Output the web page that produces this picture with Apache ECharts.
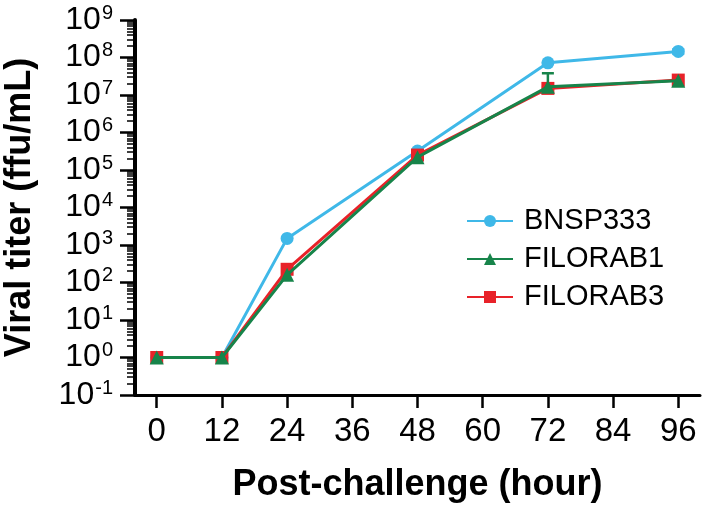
<!DOCTYPE html>
<html><head><meta charset="utf-8">
<script src="https://cdn.jsdelivr.net/npm/echarts@6/dist/echarts.min.js"></script>
<style>html,body{margin:0;padding:0;background:#fff}#c{width:702px;height:508px}</style>
</head><body><div id="c"></div>
<script>
const hours = [0, 12, 24, 48, 72, 96];
const xTicks = [0, 12, 24, 36, 48, 60, 72, 84, 96];
const yTicks = [0.1, 1, 10, 100, 1e3, 1e4, 1e5, 1e6, 1e7, 1e8, 1e9];
const seriesNames = ['BNSP333', 'FILORAB1', 'FILORAB3'];
const bnsp333 = [1, 1, 1500, 3.2e5, 7.2e7, 1.45e8];
const filorab1 = [1, 1, 160, 2.2e5, 1.65e7, 2.4e7];
const filorab3 = [1, 1, 225, 2.5e5, 1.5e7, 2.5e7];
// error bars: [hour, low, high]
const bnsp333Err = [[96, 1.25e8, 1.65e8]];
const filorab1Err = [[72, 1.65e7, 3.8e7]];

const minorTicks = [];
for (let e = -1; e < 9; e++) for (let k = 2; k <= 9; k++) minorTicks.push(k * Math.pow(10, e));

const FONT = 'Arial, "Liberation Sans", Helvetica, sans-serif';
const colors = {BNSP333: '#3fb8e8', FILORAB1: '#17844a', FILORAB3: '#e82229'};

function pair(xs, ys) { return xs.map((x, i) => [x, ys[i]]); }

function errSeries(data, color) {
  return {
    type: 'custom', z: 1, silent: true,
    data: data,
    renderItem: function (params, api) {
      const x = api.value(0), lo = api.value(1), hi = api.value(2);
      const p1 = api.coord([x, lo]), p2 = api.coord([x, hi]);
      const w = 6;
      const st = {stroke: color, lineWidth: 2.5};
      return {type: 'group', children: [
        {type: 'line', shape: {x1: p1[0], y1: p1[1], x2: p2[0], y2: p2[1]}, style: st},
        {type: 'line', shape: {x1: p1[0] - w, y1: p1[1], x2: p1[0] + w, y2: p1[1]}, style: st},
        {type: 'line', shape: {x1: p2[0] - w, y1: p2[1], x2: p2[0] + w, y2: p2[1]}, style: st}
      ]};
    }
  };
}

function lineSeries(name, ys, symbol, size, z) {
  return {
    name: name, type: 'line', data: pair(hours, ys), z: z,
    symbol: symbol, symbolSize: size, showSymbol: true,
    lineStyle: {color: colors[name], width: 3},
    itemStyle: {color: colors[name], opacity: 1},
    emphasis: {disabled: true}
  };
}

const gridRect = {left: 135, right: 2, top: 20, bottom: 113, containLabel: false, outerBoundsMode: 'none'};

const chart = echarts.init(document.getElementById('c'), null, {renderer: 'canvas'});
chart.setOption({
  animation: false,
  backgroundColor: '#fff',
  textStyle: {fontFamily: FONT},
  grid: [Object.assign({}, gridRect), Object.assign({}, gridRect)],
  legend: {
    orient: 'vertical', left: 466, top: 206, padding: 0,
    itemWidth: 46, itemHeight: 15, itemGap: 8,
    data: ['BNSP333', 'FILORAB1', 'FILORAB3'],
    textStyle: {fontFamily: FONT, fontSize: 29, color: '#000', lineHeight: 30, padding: [0, 0, 0, 6]}
  },
  xAxis: [{
    gridIndex: 0, type: 'value', min: -4, max: 100,
    name: 'Post-challenge (hour)', nameLocation: 'middle', nameGap: 72,
    nameTextStyle: {fontFamily: FONT, fontSize: 36, fontWeight: 'bold', color: '#000'},
    axisLine: {onZero: false, lineStyle: {color: '#000', width: 3}},
    axisTick: {show: true, length: 13, lineStyle: {color: '#000', width: 2.5}, customValues: xTicks},
    axisLabel: {fontFamily: FONT, fontSize: 33, color: '#000', margin: 20, customValues: xTicks},
    splitLine: {show: false}
  }, {
    gridIndex: 1, type: 'value', min: -4, max: 100, show: false
  }],
  yAxis: [{
    gridIndex: 0, type: 'log', min: 0.1, max: 1e9,
    name: 'Viral titer (ffu/mL)', nameLocation: 'middle', nameGap: 97, nameRotate: 90,
    nameTextStyle: {fontFamily: FONT, fontSize: 36, fontWeight: 'bold', color: '#000'},
    axisLine: {show: true, onZero: false, lineStyle: {color: '#000', width: 4}},
    axisTick: {show: true, length: 15, lineStyle: {color: '#000', width: 2.5}, customValues: yTicks},
    axisLabel: {
      margin: 22, customValues: yTicks,
      formatter: function (v) {
        const e = Math.round(Math.log10(v));
        return '{a|10}{b|' + e + '}';
      },
      rich: {
        a: {fontFamily: FONT, fontSize: 32, color: '#000'},
        b: {fontFamily: FONT, fontSize: 20, color: '#000', padding: [0, 0, 14, 1]}
      }
    },
    splitLine: {show: false}
  }, {
    gridIndex: 1, type: 'log', min: 0.1, max: 1e9, position: 'left',
    axisLine: {show: false, onZero: false},
    axisTick: {show: true, length: 8, lineStyle: {color: '#000', width: 1.5}, customValues: minorTicks},
    axisLabel: {show: false},
    splitLine: {show: false}
  }],
  series: [
    errSeries(bnsp333Err, colors.BNSP333),
    lineSeries('BNSP333', bnsp333, 'circle', 13, 2),
    lineSeries('FILORAB3', filorab3, 'rect', 13, 3),
    errSeries(filorab1Err, colors.FILORAB1),
    lineSeries('FILORAB1', filorab1, 'triangle', 14, 4)
  ]
});
// Force the tick cache and display list to update before the frame is painted
try {
  for (let i = 0; i < 2; i++) {
    const ax = chart.getModel().getComponent('yAxis', i).axis;
    ax.getTicksCoords();
  }
  chart.getZr().storage.getDisplayList(true);
  chart.getZr().refreshImmediately();
} catch (e) {}
</script></body></html>
